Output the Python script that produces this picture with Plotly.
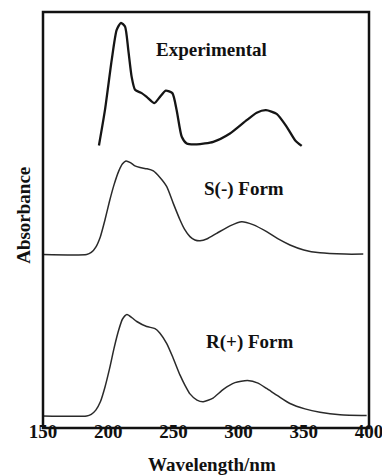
import plotly.graph_objects as go

# Experimental spectrum (stacked, arbitrary units)
exp_nm = [192.9, 197.5, 202.7, 206.5, 209.8, 212.9, 215.4, 218.0, 220.6, 225.7, 229.5, 235.4,
          239.7, 244.1, 249.2, 252.5, 256.4, 260.2, 267.9, 280.6, 293.4, 306.2, 313.9, 321.0,
          329.2, 336.9, 343.3, 348.4]
exp_abs = [67.9, 76.4, 88.5, 95.7, 97.4, 96.5, 90.9, 84.4, 81.3, 80.5, 79.6, 78.1,
           79.6, 81.1, 80.5, 76.4, 70.0, 68.4, 68.2, 68.8, 70.8, 74.0, 75.8, 76.4,
           75.5, 72.4, 69.2, 67.8]

# S(-) form computed spectrum
s_nm = [150, 183.5, 187.0, 190.5, 194.0, 197.5, 201.0, 204.5, 208.0, 211.0, 213.6, 217.0,
        220.5, 224.4, 229.8, 234.6, 239.7, 244.9, 249.9, 255.1, 258.5, 262.7, 266.5, 270.4,
        276.0, 283.2, 293.4, 302.4, 311.0, 321.5, 330.0, 339.4, 350.0, 362.4, 381.6, 395.6]
s_abs = [41.7, 41.7, 42.2, 43.5, 46.0, 50.0, 54.5, 58.5, 61.7, 63.5, 64.2, 63.8,
         63.0, 62.6, 62.3, 61.8, 60.2, 58.0, 54.0, 50.0, 47.8, 46.0, 45.2, 45.0,
         45.5, 46.8, 48.6, 49.6, 48.9, 47.2, 45.5, 44.0, 42.8, 42.1, 41.8, 41.8]

# R(+) form computed spectrum
r_nm = [150, 183.5, 187.0, 190.5, 194.0, 197.5, 201.0, 204.5, 208.0, 211.0, 214.4, 218.3,
        221.9, 229.5, 235.9, 239.7, 244.9, 249.7, 255.1, 259.0, 262.7, 268.1, 272.9, 280.4,
        288.3, 297.2, 306.8, 314.9, 321.5, 330.2, 339.4, 350.9, 362.4, 377.8, 398.2]
r_abs = [2.9, 2.9, 3.3, 4.3, 6.3, 9.8, 14.2, 19.2, 23.5, 26.2, 27.3, 26.5,
         25.6, 24.4, 23.9, 22.8, 20.3, 16.9, 12.7, 10.2, 8.2, 6.7, 6.3, 7.2,
         9.3, 10.9, 11.4, 10.8, 9.5, 7.7, 5.9, 4.6, 3.8, 3.2, 3.0]

labels = ["Experimental", "S(-) Form", "R(+) Form"]
label_x = [279.4, 304.5, 308.0]
label_y = [91.1, 57.4, 20.7]

x_ticks = [150, 200, 250, 300, 350, 400]
x_title = "Wavelength/nm"
y_title = "Absorbance"

font_family = "Liberation Serif, Times New Roman, serif"
text_font = dict(family=font_family, size=19, color="#111")

fig = go.Figure()
fig.add_trace(go.Scatter(x=exp_nm, y=exp_abs, mode="lines",
                         line=dict(color="#151515", width=2.3, shape="spline", smoothing=0.6)))
fig.add_trace(go.Scatter(x=s_nm, y=s_abs, mode="lines",
                         line=dict(color="#2a2a2a", width=1.5, shape="spline", smoothing=0.6)))
fig.add_trace(go.Scatter(x=r_nm, y=r_abs, mode="lines",
                         line=dict(color="#2a2a2a", width=1.5, shape="spline", smoothing=0.6)))

for t, xx, yy in zip(labels, label_x, label_y):
    fig.add_annotation(x=xx, y=yy, text="<b>%s</b>" % t, showarrow=False, font=text_font,
                       xanchor="center", yanchor="middle")

# axis titles as paper-anchored annotations
fig.add_annotation(xref="paper", yref="paper", x=0.5175, y=0, yshift=-36,
                   text="<b>%s</b>" % x_title, showarrow=False, font=text_font,
                   xanchor="center", yanchor="middle")
fig.add_annotation(xref="paper", yref="paper", x=0, y=0.51, xshift=-19, textangle=-90,
                   text="<b>%s</b>" % y_title, showarrow=False, font=text_font,
                   xanchor="center", yanchor="middle")

# plot frame
fig.add_shape(type="rect", xref="paper", yref="paper", x0=0, x1=1, y0=0, y1=1,
              line=dict(color="#111", width=2.5), layer="above")

fig.update_layout(
    width=382, height=475,
    margin=dict(l=43, r=13, t=12, b=47),
    paper_bgcolor="white", plot_bgcolor="white",
    showlegend=False,
    font=dict(family=font_family, color="#111"),
)
fig.update_xaxes(range=[150, 400], tickvals=x_ticks, ticktext=["<b>%d</b>" % v for v in x_ticks],
                 showgrid=False, zeroline=False, showline=False,
                 ticks="", ticklen=0, automargin=False,
                 ticklabeloverflow="allow", ticklabelstandoff=-10,
                 tickfont=text_font)
fig.update_yaxes(range=[0, 100], showticklabels=False, showgrid=False, zeroline=False,
                 showline=False, ticks="", automargin=False)

fig.write_html("out.html")
